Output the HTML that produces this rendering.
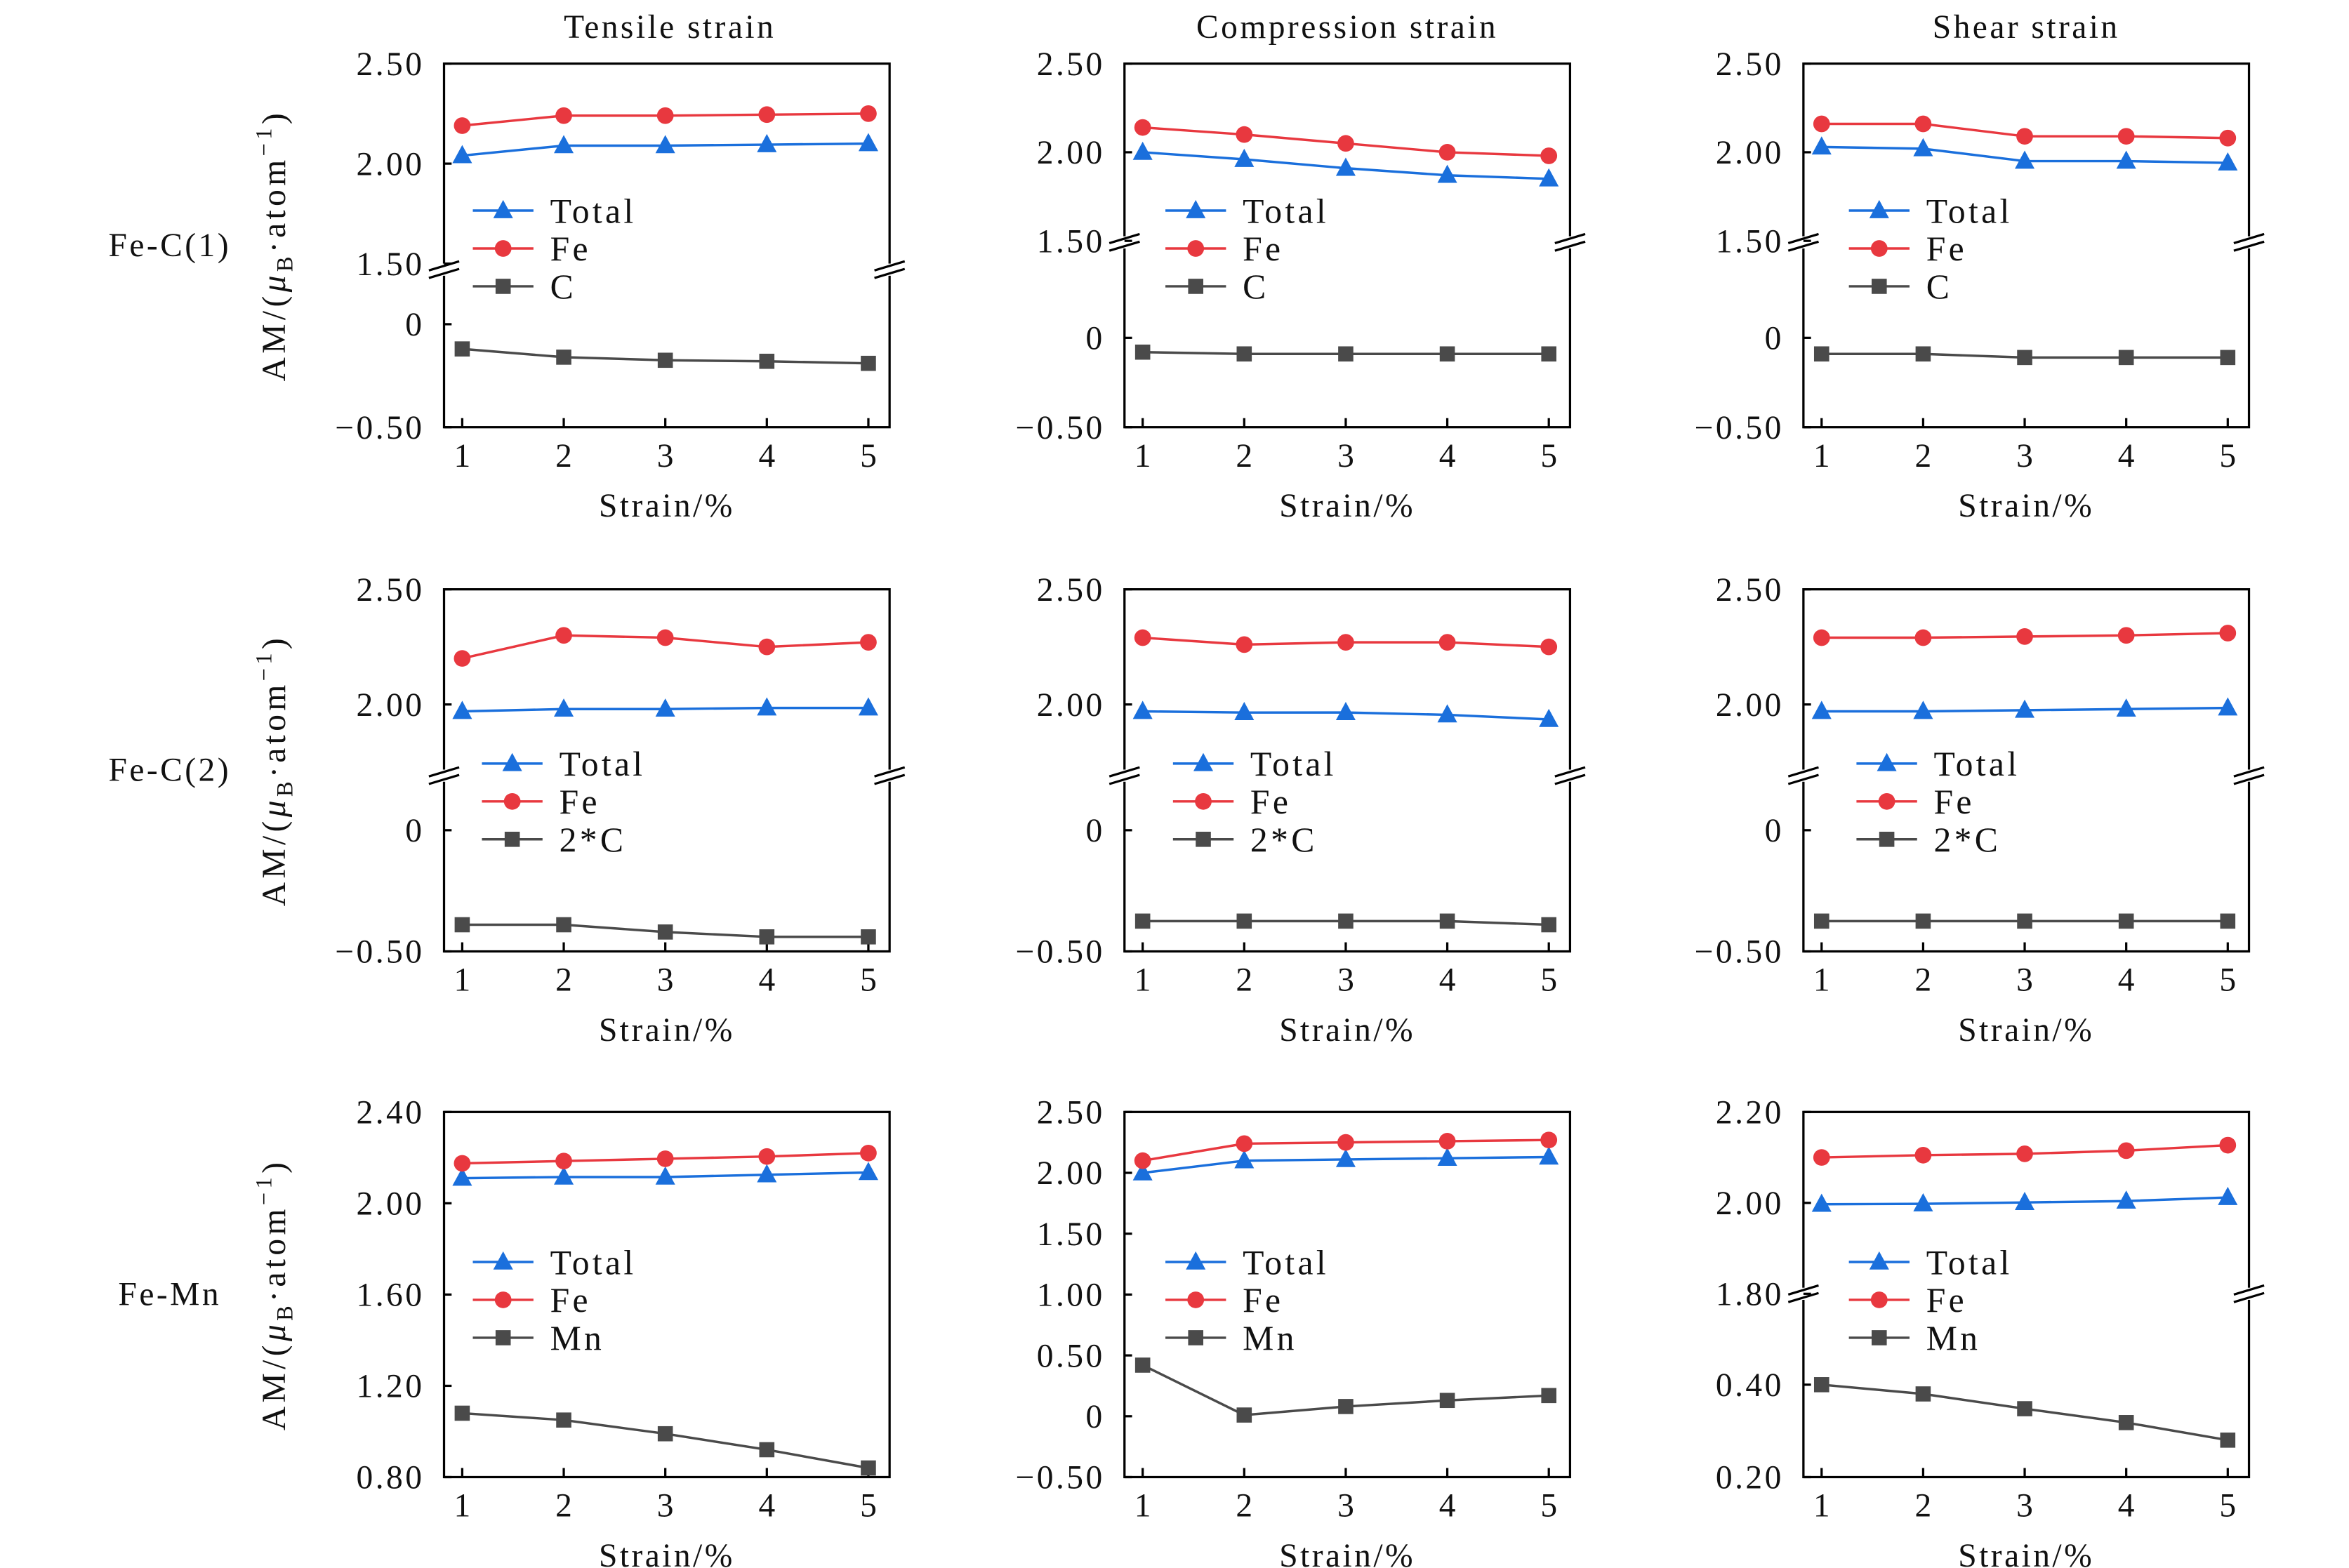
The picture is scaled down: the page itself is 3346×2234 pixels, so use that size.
<!DOCTYPE html>
<html><head><meta charset="utf-8"><style>
html,body{margin:0;padding:0;background:#fff;}
svg{display:block;}
text{font-family:"Liberation Serif",serif;fill:#111;}
</style></head><body>
<svg id="fig" width="3346" height="2234" viewBox="0 0 1550 1035" preserveAspectRatio="none" xmlns="http://www.w3.org/2000/svg"></svg>
<script>
// ---- data ----
const strains = [1, 2, 3, 4, 5];
const colTitles = ["Tensile strain", "Compression strain", "Shear strain"];
const rowTitles = ["Fe-C(1)", "Fe-C(2)", "Fe-Mn"];
const seriesNamesR1 = ["Total", "Fe", "C"];
const seriesNamesR2 = ["Total", "Fe", "2*C"];
const seriesNamesR3 = ["Total", "Fe", "Mn"];

const r1c1Total = [2.04, 2.09, 2.09, 2.095, 2.10];
const r1c1Fe = [2.19, 2.24, 2.24, 2.245, 2.25];
const r1c1C = [-0.12, -0.16, -0.175, -0.18, -0.19];
const r1c2Total = [2.00, 1.96, 1.91, 1.87, 1.85];
const r1c2Fe = [2.14, 2.10, 2.05, 2.00, 1.98];
const r1c2C = [-0.08, -0.09, -0.09, -0.09, -0.09];
const r1c3Total = [2.03, 2.02, 1.95, 1.95, 1.94];
const r1c3Fe = [2.16, 2.16, 2.09, 2.09, 2.08];
const r1c3C = [-0.09, -0.09, -0.11, -0.11, -0.11];

const r2c1Total = [1.97, 1.98, 1.98, 1.985, 1.985];
const r2c1Fe = [2.20, 2.30, 2.29, 2.25, 2.27];
const r2c1C = [-0.39, -0.39, -0.42, -0.44, -0.44];
const r2c2Total = [1.97, 1.965, 1.965, 1.955, 1.935];
const r2c2Fe = [2.29, 2.26, 2.27, 2.27, 2.25];
const r2c2C = [-0.375, -0.375, -0.375, -0.375, -0.39];
const r2c3Total = [1.97, 1.97, 1.975, 1.98, 1.985];
const r2c3Fe = [2.29, 2.29, 2.295, 2.30, 2.31];
const r2c3C = [-0.375, -0.375, -0.375, -0.375, -0.375];

const r3c1Total = [2.11, 2.115, 2.115, 2.125, 2.135];
const r3c1Fe = [2.175, 2.185, 2.195, 2.205, 2.22];
const r3c1Mn = [1.08, 1.05, 0.99, 0.92, 0.84];
const r3c2Total = [2.00, 2.10, 2.11, 2.12, 2.13];
const r3c2Fe = [2.10, 2.24, 2.25, 2.26, 2.27];
const r3c2Mn = [0.42, 0.01, 0.08, 0.13, 0.17];
const r3c3Total = [1.997, 1.998, 2.001, 2.004, 2.012];
const r3c3Fe = [2.100, 2.105, 2.108, 2.115, 2.127];
const r3c3Mn = [0.40, 0.38, 0.348, 0.318, 0.28];

const ticksR1Upper = [2.50, 2.00, 1.50];
const ticksR1Lower = [0, -0.50];
const ticksR2Upper = [2.50, 2.00];
const ticksR2Lower = [0, -0.50];
const ticksR3C1 = [2.40, 2.00, 1.60, 1.20, 0.80];
const ticksR3C2 = [2.50, 2.00, 1.50, 1.00, 0.50, 0, -0.50];
const ticksR3C3Upper = [2.20, 2.00, 1.80];
const ticksR3C3Lower = [0.40, 0.20];

// ---- layout ----
const NS = "http://www.w3.org/2000/svg";
const svg = document.getElementById("fig");
const colLeft = [293, 742, 1190];
const plotW = 294;
const rowTop = [42, 389, 734];
const rowBot = [282, 628, 975];
const COLORS = ["#1a6fdc", "#e8383f", "#4a4a4a"];
const FS = 22, LS = 1.6;

function mk(tag, attrs, parent) {
  const e = document.createElementNS(NS, tag);
  for (const k in attrs) e.setAttribute(k, attrs[k]);
  (parent || svg).appendChild(e);
  return e;
}
function fmt(v) {
  if (v === 0) return "0";
  const s = Math.abs(v).toFixed(2);
  return v < 0 ? "\u2212" + s : s;
}

const panels = [
  {r:0,c:0, upper:{hi:2.5,lo:1.5,y0:42,y1:174}, lower:{hi:0,lo:-0.5,y0:214,y1:282}, brk:178, tu:ticksR1Upper, tl:ticksR1Lower, names:seriesNamesR1, s:[r1c1Total,r1c1Fe,r1c1C], lx:312, ly:139},
  {r:0,c:1, upper:{hi:2.5,lo:1.5,y0:42,y1:159}, lower:{hi:0,lo:-0.5,y0:223,y1:282}, brk:160, tu:ticksR1Upper, tl:ticksR1Lower, names:seriesNamesR1, s:[r1c2Total,r1c2Fe,r1c2C], lx:769, ly:139},
  {r:0,c:2, upper:{hi:2.5,lo:1.5,y0:42,y1:159}, lower:{hi:0,lo:-0.5,y0:223,y1:282}, brk:160, tu:ticksR1Upper, tl:ticksR1Lower, names:seriesNamesR1, s:[r1c3Total,r1c3Fe,r1c3C], lx:1220, ly:139},
  {r:1,c:0, upper:{hi:2.5,lo:2.0,y0:389,y1:465}, lower:{hi:0,lo:-0.5,y0:548,y1:628}, brk:512, tu:ticksR2Upper, tl:ticksR2Lower, names:seriesNamesR2, s:[r2c1Total,r2c1Fe,r2c1C], lx:318, ly:504},
  {r:1,c:1, upper:{hi:2.5,lo:2.0,y0:389,y1:465}, lower:{hi:0,lo:-0.5,y0:548,y1:628}, brk:512, tu:ticksR2Upper, tl:ticksR2Lower, names:seriesNamesR2, s:[r2c2Total,r2c2Fe,r2c2C], lx:774, ly:504},
  {r:1,c:2, upper:{hi:2.5,lo:2.0,y0:389,y1:465}, lower:{hi:0,lo:-0.5,y0:548,y1:628}, brk:512, tu:ticksR2Upper, tl:ticksR2Lower, names:seriesNamesR2, s:[r2c3Total,r2c3Fe,r2c3C], lx:1225, ly:504},
  {r:2,c:0, upper:{hi:2.4,lo:0.8,y0:734,y1:975}, lower:null, brk:null, tu:ticksR3C1, tl:[], names:seriesNamesR3, s:[r3c1Total,r3c1Fe,r3c1Mn], lx:312, ly:833},
  {r:2,c:1, upper:{hi:2.5,lo:-0.5,y0:734,y1:975}, lower:null, brk:null, tu:ticksR3C2, tl:[], names:seriesNamesR3, s:[r3c2Total,r3c2Fe,r3c2Mn], lx:769, ly:833},
  {r:2,c:2, upper:{hi:2.2,lo:1.8,y0:734,y1:854}, lower:{hi:0.4,lo:0.2,y0:914,y1:975}, brk:854, tu:ticksR3C3Upper, tl:ticksR3C3Lower, names:seriesNamesR3, s:[r3c3Total,r3c3Fe,r3c3Mn], lx:1220, ly:833},
];

function lin(seg, v) { return seg.y0 + (seg.hi - v) / (seg.hi - seg.lo) * (seg.y1 - seg.y0); }
function yScale(p, v) {
  if (!p.lower) return lin(p.upper, v);
  const mid = (p.upper.lo + p.lower.hi) / 2;
  return v >= mid ? lin(p.upper, v) : lin(p.lower, v);
}
function xScale(p, v) { return colLeft[p.c] + 12 + (v - 1) * 67; }

function marker(kind, x, y, color, g) {
  let m;
  if (kind === 0) m = mk("polygon", {points:`${x},${y-7} ${x-6.5},${y+5} ${x+6.5},${y+5}`, fill:color}, g);
  else if (kind === 1) m = mk("circle", {cx:x, cy:y, r:5.5, fill:color}, g);
  else m = mk("rect", {x:x-5, y:y-5, width:10, height:10, fill:color}, g);
  return m;
}

colTitles.forEach((t, i) => {
  const e = mk("text", {x: colLeft[i] + plotW / 2 + (i===0?2:0), y: 25, "font-size": FS, "letter-spacing": LS, "text-anchor": "middle"});
  e.textContent = t;
  
  
});
rowTitles.forEach((t, i) => {
  const cy = (rowTop[i] + rowBot[i]) / 2;
  const e = mk("text", {x: 112, y: cy + 7, "font-size": FS, "letter-spacing": LS, "text-anchor": "middle"});
  e.textContent = t;
  
  
  const yt = mk("text", {x: 0, y: 0, "font-size": FS, "letter-spacing": 2.5, "text-anchor": "middle", transform: `translate(188,${cy}) rotate(-90)`});
  yt.innerHTML = 'AM/(<tspan font-style="italic">μ</tspan><tspan font-size="15" dy="5">B</tspan><tspan dy="-5">·atom</tspan><tspan font-size="15" dy="-9">−1</tspan><tspan dy="9">)</tspan>';
  
  
});

panels.forEach(p => {
  const g = mk("g", {});
  
  
  const L = colLeft[p.c], R = L + plotW, T = rowTop[p.r], B = rowBot[p.r];
  const fr = mk("rect", {x:L, y:T, width:plotW, height:B-T, fill:"none", stroke:"#000", "stroke-width":1.5}, g);
  
  
  if (p.brk !== null) {
    [L, R].forEach(ax => {
      mk("rect", {x:ax-10, y:p.brk-4, width:20, height:8, fill:"#fff"}, g);
      [-2.5, 2.5].forEach(d => {
        const l = mk("line", {x1:ax-10, y1:p.brk+d+3, x2:ax+10, y2:p.brk+d-3, stroke:"#000", "stroke-width":1.5}, g);
        
        
      });
    });
  }
  p.tu.concat(p.tl).forEach(v => {
    const y = yScale(p, v);
    mk("line", {x1:L, y1:y, x2:L+5, y2:y, stroke:"#000", "stroke-width":1.5}, g);
    const t = mk("text", {x:L-13, y:y+7.5, "font-size":FS, "letter-spacing":LS, "text-anchor":"end"}, g);
    t.textContent = fmt(v);
    
    
  });
  strains.forEach(v => {
    const x = xScale(p, v);
    mk("line", {x1:x, y1:B, x2:x, y2:B-6, stroke:"#000", "stroke-width":1.5}, g);
    const t = mk("text", {x:x, y:B+26, "font-size":FS, "text-anchor":"middle"}, g);
    t.textContent = v;
    
    
  });
  const xt = mk("text", {x:L + plotW/2, y:B+59, "font-size":FS, "letter-spacing":LS, "text-anchor":"middle"}, g);
  xt.textContent = "Strain/%";
  
  
  p.s.forEach((vals, si) => {
    const pts = vals.map((v, i) => `${xScale(p, strains[i])},${yScale(p, v)}`).join(" ");
    const pl = mk("polyline", {points:pts, fill:"none", stroke:COLORS[si], "stroke-width":1.6}, g);
    
    
    vals.forEach((v, i) => {
      const m = marker(si, xScale(p, strains[i]), yScale(p, v), COLORS[si], g);
      
      
    });
  });
  p.names.forEach((n, si) => {
    const y = p.ly + si * 25;
    const lg = mk("g", {}, g);
    
    
    mk("line", {x1:p.lx, y1:y, x2:p.lx+40, y2:y, stroke:COLORS[si], "stroke-width":1.6}, lg);
    marker(si, p.lx+20, y, COLORS[si], lg);
    const t = mk("text", {x:p.lx+51, y:y+8, "font-size":FS+1, "letter-spacing":2}, lg);
    t.textContent = n;
  });
});
</script>
</body></html>
